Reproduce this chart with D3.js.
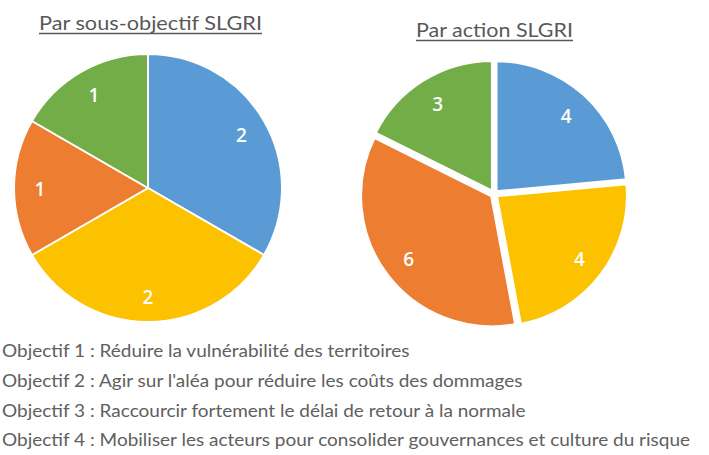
<!DOCTYPE html>
<html>
<head>
<meta charset="utf-8">
<script src="https://cdn.jsdelivr.net/npm/d3@7"></script>
<style>
  body { margin: 0; background: #fff; }
  svg { display: block; }
</style>
</head>
<body>
<svg></svg>
<script>
// Define variables
const width = 709
const height = 455

const categories = ['Objectif 1', 'Objectif 2', 'Objectif 3', 'Objectif 4']
const sousObjectifValues = [2, 2, 1, 1]
const actionValues = [4, 4, 6, 3]
const sliceColors = ['#5b9bd5', '#fcc200', '#ed7d31', '#72ad47']
const titles = ['Par sous-objectif SLGRI', 'Par action SLGRI']
const legendLines = [
    'Objectif 1 : Réduire la vulnérabilité des territoires',
    'Objectif 2 : Agir sur l\'aléa pour réduire les coûts des dommages',
    'Objectif 3 : Raccourcir fortement le délai de retour à la normale',
    'Objectif 4 : Mobiliser les acteurs pour consolider gouvernances et culture du risque'
]

const svg = d3.select('svg')
                .attr('width', width)
                .attr('height', height)

const colorScale = d3.scaleOrdinal()
                .domain(categories)
                .range(sliceColors)

let pie = d3.pie().sort(null).value(d => d.value)

// Draw one pie
let drawPie = (values, cx, cy, r, explode, strokeW, labelR) => {
    let data = categories.map((c, i) => ({ cat: c, value: values[i] }))
    let arcs = pie(data)
    let arc = d3.arc().innerRadius(0).outerRadius(r)
    let g = svg.append('g').attr('transform', 'translate(' + cx + ',' + cy + ')')

    let slices = g.selectAll('g.slice')
        .data(arcs)
        .enter()
        .append('g')
        .attr('class', 'slice')
        .attr('transform', d => {
            let a = (d.startAngle + d.endAngle) / 2
            return 'translate(' + (Math.sin(a) * explode) + ',' + (-Math.cos(a) * explode) + ')'
        })

    slices.append('path')
        .attr('d', arc)
        .attr('fill', d => colorScale(d.data.cat))
        .attr('stroke', '#fff')
        .attr('stroke-width', strokeW)
        .attr('stroke-linejoin', 'round')

    slices.append('text')
        .attr('x', d => Math.sin((d.startAngle + d.endAngle) / 2) * labelR)
        .attr('y', d => -Math.cos((d.startAngle + d.endAngle) / 2) * labelR)
        .attr('dy', '0.4em')
        .attr('text-anchor', 'middle')
        .attr('fill', '#fff')
        .attr('font-family', 'Open Sans, sans-serif')
        .attr('font-size', 19)
        .attr('font-weight', 600)
        .text(d => d.data.value)
}

// Titles with underline
let drawTitle = (txt, cx, y, w) => {
    svg.append('text')
        .attr('x', cx)
        .attr('y', y)
        .attr('text-anchor', 'middle')
        .attr('fill', '#595959')
        .attr('font-family', 'Lato, sans-serif')
        .attr('font-size', 19)
        .attr('textLength', w)
        .attr('lengthAdjust', 'spacingAndGlyphs')
        .text(txt)
    svg.append('line')
        .attr('x1', cx - w / 2)
        .attr('x2', cx + w / 2)
        .attr('y1', y + 3.5)
        .attr('y2', y + 3.5)
        .attr('stroke', '#595959')
        .attr('stroke-width', 1.5)
}

drawTitle(titles[0], 150.5, 30, 223)
drawTitle(titles[1], 494.5, 37, 157)

drawPie(sousObjectifValues, 148, 188, 134, 0, 2, 108)
drawPie(actionValues, 494, 194, 131, 3, 3, 104)

// Legend text below the pies
let legendY = d3.scaleBand()
    .domain(legendLines.map((d, i) => i))
    .range([340, 459])

let legend = svg.selectAll('text.legend')
    .data(legendLines)
    .enter()
    .append('text')
    .attr('class', 'legend')
    .attr('x', 2)
    .attr('y', (d, i) => legendY(i) + 17)
    .attr('fill', '#606060')
    .attr('font-family', 'Lato, sans-serif')
    .attr('font-size', 16.5)
    .text(d => d)

// squeeze all lines by the same factor so the longest one ends near the right edge
let natural = legend.nodes().map(n => n.getComputedTextLength())
let k = 688 / d3.max(natural)
legend.attr('textLength', (d, i) => natural[i] * k)
      .attr('lengthAdjust', 'spacingAndGlyphs')
</script>
</body>
</html>
